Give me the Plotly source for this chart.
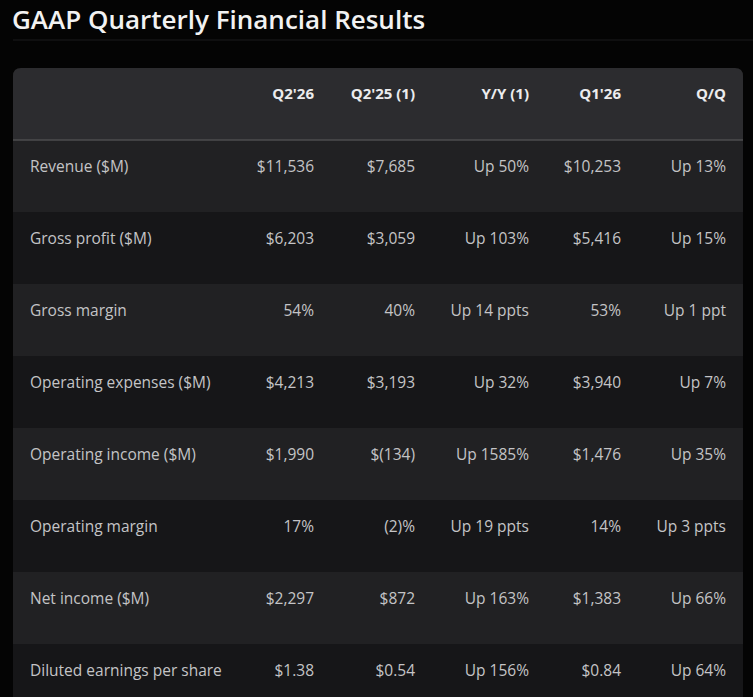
import plotly.graph_objects as go

# table content
title = "GAAP Quarterly Financial Results"
headers = ["Q2'26", "Q2'25 (1)", "Y/Y (1)", "Q1'26", "Q/Q"]
metrics = ["Revenue ($M)", "Gross profit ($M)", "Gross margin", "Operating expenses ($M)",
           "Operating income ($M)", "Operating margin", "Net income ($M)",
           "Diluted earnings per share"]
q2_26 = ["$11,536", "$6,203", "54%", "$4,213", "$1,990", "17%", "$2,297", "$1.38"]
q2_25 = ["$7,685", "$3,059", "40%", "$3,193", "$(134)", "(2)%", "$872", "$0.54"]
yoy = ["Up 50%", "Up 103%", "Up 14 ppts", "Up 32%", "Up 1585%", "Up 19 ppts", "Up 163%", "Up 156%"]
q1_26 = ["$10,253", "$5,416", "53%", "$3,940", "$1,476", "14%", "$1,383", "$0.84"]
qoq = ["Up 13%", "Up 15%", "Up 1 ppt", "Up 7%", "Up 35%", "Up 3 ppts", "Up 66%", "Up 64%"]
columns = [q2_26, q2_25, yoy, q1_26, qoq]

# layout constants (pixels on x, row units on y)
W, H = 753, 697
left, right = 13, 743
top_px, row_px = 68, 72
label_x = 30
col_right = [314, 415, 529, 621, 726]
text_shift = -8 / row_px
head_shift = -9 / row_px
light, dark, head = "#212123", "#161618", "#2c2c2f"

rows = list(range(1, len(metrics) + 1))
y_top = (0 - (top_px + row_px / 2)) / row_px
y_bot = (H - (top_px + row_px / 2)) / row_px

fig = go.Figure()

# row bands
fig.add_trace(go.Bar(
    y=rows, x=[right - left] * len(rows), base=left, orientation="h", width=1,
    marker=dict(color=[light if i % 2 == 0 else dark for i in range(len(rows))], line_width=0),
    hoverinfo="skip"))

text_y = [r + text_shift for r in rows]
body_font = dict(family="Open Sans", size=15.5, color="#c4c4c6")
fig.add_trace(go.Scatter(
    x=[label_x] * len(metrics), y=text_y, text=metrics, mode="text",
    textposition="middle right", hoverinfo="skip", textfont=body_font))

for cx, vals in zip(col_right, columns):
    fig.add_trace(go.Scatter(
        x=[cx] * len(vals), y=text_y, text=vals, mode="text",
        textposition="middle left", hoverinfo="skip", textfont=body_font))

fig.add_trace(go.Scatter(
    x=col_right, y=[head_shift] * len(headers), text=headers, mode="text",
    textposition="middle left", hoverinfo="skip",
    textfont=dict(family="Open Sans", size=15, color="#ececee", weight="bold")))

# rounded header background
r, ry = 8, 8 / row_px
path = (f"M {left},0.5 L {left},{-0.5 + ry} Q {left},-0.5 {left + r},-0.5 "
        f"L {right - r},-0.5 Q {right},-0.5 {right},{-0.5 + ry} L {right},0.5 Z")
fig.add_shape(type="path", path=path, xref="x", yref="y",
              fillcolor=head, line_width=0, layer="below")
fig.add_shape(type="line", xref="x", yref="y", x0=left, x1=right, y0=0.5, y1=0.5,
              line=dict(color="#4c4c4f", width=1.5))
# faint line under the title
fig.add_shape(type="line", xref="x", yref="paper", x0=left, x1=W, y0=1 - 40 / H, y1=1 - 40 / H,
              line=dict(color="#1b1b1d", width=1))

fig.add_annotation(text=title, xref="paper", yref="paper", x=11 / W, y=1,
                   xanchor="left", yanchor="top", showarrow=False, borderpad=0,
                   font=dict(family="Open Sans", size=26, color="#f2f2f2", weight=600))

fig.update_layout(
    width=W, height=H, margin=dict(l=0, r=0, t=0, b=0),
    paper_bgcolor="#040404", plot_bgcolor="#040404",
    showlegend=False, bargap=0,
    xaxis=dict(range=[0, W], visible=False, fixedrange=True),
    yaxis=dict(range=[y_bot, y_top], visible=False, fixedrange=True),
)

fig.write_html("out.html", config={"displayModeBar": False},
               post_script="document.body.style.margin='0';"
                           "document.body.style.background='#040404';"
                           "document.body.style.overflow='hidden';")
